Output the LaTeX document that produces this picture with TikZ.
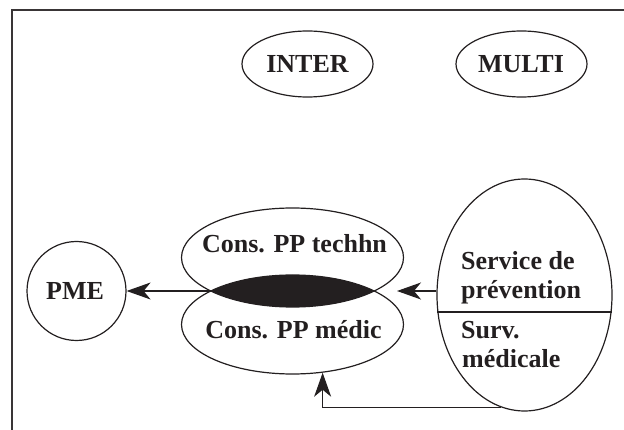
\documentclass[tikz,border=0pt]{standalone}
\usepackage{fontspec}
\setmainfont{Liberation Serif}
\usetikzlibrary{shapes.geometric,arrows.meta}
\definecolor{ink}{RGB}{35,31,32}
\begin{document}
\begin{tikzpicture}[x=1pt,y=-1pt,
  shp/.style={draw=ink, line width=1.2pt, inner sep=0pt},
  lbl/.style={font=\fontsize{26}{29}\selectfont\bfseries, text=ink, anchor=base, inner sep=0pt},
  arr/.style={draw=ink, line width=1.2pt, -{Stealth[length=24pt,width=17pt,inset=7pt]}},
  framestyle/.style={line width=2pt, draw=ink!90}]
\useasboundingbox (0,0) rectangle (624,430);
% frame
\coordinate (fTR) at (624,10);
\coordinate (fTL) at (12,10);
\coordinate (fBL) at (12,430);
\draw[framestyle] (fTR) -- (fTL) -- (fBL);

% lens (overlap of the two ellipses)
\begin{scope}
  \clip (292.5,257.5) ellipse [x radius=111pt, y radius=49.5pt];
  \fill[ink] (292.5,324.5) ellipse [x radius=111pt, y radius=49.5pt];
\end{scope}

% shapes
\node[shp, ellipse, minimum width=131pt, minimum height=66pt] (inter) at (307.5,64) {};
\node[shp, ellipse, minimum width=131pt, minimum height=66pt] (multi) at (521.5,64) {};
\node[shp, circle, minimum size=99pt] (pme) at (76.5,291) {};
\node[shp, ellipse, minimum width=222pt, minimum height=99pt] (tech) at (292.5,257.5) {};
\node[shp, ellipse, minimum width=222pt, minimum height=99pt] (medic) at (292.5,324.5) {};
\node[shp, ellipse, minimum width=175pt, minimum height=232pt] (serv) at (524.5,295) {};
\draw[ink, line width=1.2pt] (serv.191.77) -- (serv.-11.77);

% texts
\node[lbl] (tinter) at (307.5,73) {INTER};
\node[lbl] (tmulti) at (521,73) {MULTI};
\node[lbl] (tpme) at (75,300) {PME};
\node[lbl] (ttech) at (294.5,253) {Cons. PP techhn};
\node[lbl] (tmedic) at (293.5,338) {Cons. PP médic};
\node[lbl, anchor=base west] (ts1) at (461,270) {Service de};
\node[lbl, anchor=base west] (ts2) at (461,299) {prévention};
\node[lbl, anchor=base west] (ts3) at (461,338) {Surv.};
\node[lbl, anchor=base west] (ts4) at (462,367) {médicale};

% connectors
\coordinate (lensL) at (210.8,291);
\coordinate (tipR) at (397,291);
\draw[arr] (lensL) -- (pme.east);
\draw[arr] (tipR -| serv.west) -- (tipR);
\draw[arr] (serv.258.6) -| (medic.-58.3);
\end{tikzpicture}
\end{document}
